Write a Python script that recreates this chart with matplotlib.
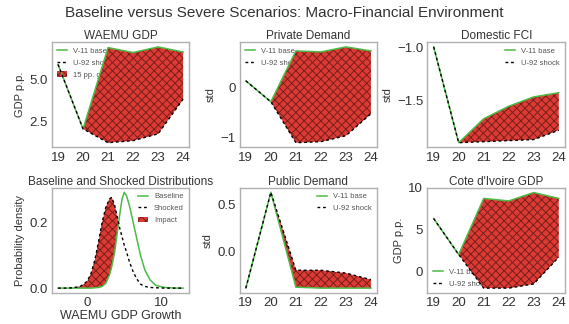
import matplotlib
matplotlib.use("Agg")
import matplotlib.pyplot as plt
import numpy as np

plt.rcParams['font.family'] = ['Liberation Sans', 'DejaVu Sans']
plt.rcParams['hatch.linewidth'] = 0.7

# scenario paths, 2019-2024
years = [19, 20, 21, 22, 23, 24]
waemu_base = [5.87, 2.09, 6.86, 6.57, 6.90, 6.60]
waemu_shock = [5.87, 2.09, 1.28, 1.40, 1.80, 3.84]
private_base = [0.14, -0.28, 0.74, 0.72, 0.82, 0.74]
private_shock = [0.14, -0.28, -1.10, -1.08, -0.96, -0.52]
fci_base = [-0.99, -1.91, -1.68, -1.56, -1.47, -1.43]
fci_shock = [-0.99, -1.91, -1.90, -1.89, -1.88, -1.79]
public_base = [-0.39, 0.63, -0.38, -0.39, -0.39, -0.39]
public_shock = [-0.39, 0.63, -0.20, -0.20, -0.23, -0.30]
civ_base = [6.3, 2.0, 8.7, 8.4, 9.4, 8.7]
civ_shock = [6.3, 2.0, -2.0, -2.0, -1.5, 1.7]

# growth densities
growth = [-4, -3, -2, -1, -0.5, 0, 0.5, 1, 1.5, 2, 2.5, 3, 3.3, 3.7, 4.0, 4.4,
          4.7, 5.0, 5.3, 5.7, 6.2, 6.7, 7.2, 7.8, 8.5, 9.3, 10.5, 12, 13]
dens_base = [0, 0, 0, 0, 0, 0, 0, 0.001, 0.002, 0.005, 0.015, 0.04, 0.065, 0.11,
             0.16, 0.225, 0.27, 0.29, 0.28, 0.25, 0.20, 0.15, 0.10, 0.055, 0.025,
             0.008, 0.002, 0, 0]
dens_shock = [0, 0, 0.001, 0.005, 0.012, 0.022, 0.045, 0.085, 0.14, 0.20, 0.245,
              0.27, 0.275, 0.25, 0.22, 0.18, 0.155, 0.13, 0.11, 0.08, 0.05, 0.028,
              0.012, 0.005, 0.002, 0.001, 0, 0, 0]

GREEN = '#4cbb47'
RED = '#dc3a34'
HATCH = '#7a1f1b'
SPINE = '#b0b0b0'
TXT = '#333333'


def style(ax, title):
    ax.set_title(title, fontsize=8.5, color=TXT, pad=2)
    for s in ax.spines.values():
        s.set_color(SPINE)
        s.set_linewidth(1.0)
    ax.tick_params(length=0, labelsize=9.5, colors=TXT, pad=3)


def scenario(ax, base, shock, title, ylabel, yticks, loc, gap_label=None):
    ax.fill_between(years[1:], base[1:], shock[1:], facecolor=RED, edgecolor=HATCH,
                    hatch='xxxx', linewidth=0, label=gap_label, zorder=2)
    ax.plot(years, base, color=GREEN, lw=1.1, label='V-11 base', zorder=3)
    ax.plot(years, shock, color='k', lw=1.0, ls='--', dashes=(2, 2),
            label='U-92 shock', zorder=3)
    style(ax, title)
    ax.set_xticks(years)
    ax.set_yticks(yticks)
    ax.set_ylabel(ylabel, fontsize=8, color=TXT, labelpad=3)
    h, l = ax.get_legend_handles_labels()
    if gap_label:
        h = [h[1], h[2], h[0]]
        l = [l[1], l[2], l[0]]
    else:
        h, l = h[-2:], l[-2:]
    leg = ax.legend(h, l, loc=loc, frameon=False, fontsize=5.5, labelcolor='#555555',
                    handlelength=1.3, handletextpad=0.8, borderaxespad=0.3,
                    labelspacing=0.6)
    leg.set_zorder(1)


fig, axes = plt.subplots(2, 3, figsize=(5.69, 3.24), dpi=100)
fig.subplots_adjust(left=0.091, right=0.993, top=0.870, bottom=0.096,
                    wspace=0.365, hspace=0.38)
fig.suptitle('Baseline versus Severe Scenarios: Macro-Financial Environment',
             fontsize=11, color=TXT, y=0.98)

scenario(axes[0, 0], waemu_base, waemu_shock, 'WAEMU GDP', 'GDP p.p.', [2.5, 5.0],
         'upper left', gap_label='15 pp. gap')
scenario(axes[0, 1], private_base, private_shock, 'Private Demand', 'std', [-1, 0],
         'upper left')
scenario(axes[0, 2], fci_base, fci_shock, 'Domestic FCI', 'std', [-1.5, -1.0],
         'upper right')
scenario(axes[1, 1], public_base, public_shock, 'Public Demand', 'std', [0.0, 0.5],
         'upper right')
scenario(axes[1, 2], civ_base, civ_shock, "Cote d'Ivoire GDP", 'GDP p.p.', [0, 5, 10],
         'lower left')

ax = axes[1, 0]
gb = np.array(dens_base)
gs = np.array(dens_shock)
ax.fill_between(growth, gs, gb, where=gs > gb, interpolate=True, facecolor=RED,
                edgecolor=HATCH, hatch='xxxx', linewidth=0, label='Impact', zorder=2)
ax.plot(growth, dens_base, color=GREEN, lw=1.1, label='Baseline', zorder=3)
ax.plot(growth, dens_shock, color='k', lw=1.0, ls='--', dashes=(2, 2),
        label='Shocked', zorder=3)
style(ax, 'Baseline and Shocked Distributions')
ax.set_xticks([0, 10])
ax.set_yticks([0.0, 0.2])
ax.set_ylabel('Probability density', fontsize=8, color=TXT, labelpad=3)
ax.set_xlabel('WAEMU GDP Growth', fontsize=9, color=TXT, labelpad=1)
h, l = ax.get_legend_handles_labels()
ax.legend([h[1], h[2], h[0]], [l[1], l[2], l[0]], loc='upper right', frameon=False,
          fontsize=5.5, labelcolor='#555555', handlelength=1.3, handletextpad=0.8,
          borderaxespad=0.3, labelspacing=0.6)

fig.savefig('out.png', dpi=100)
